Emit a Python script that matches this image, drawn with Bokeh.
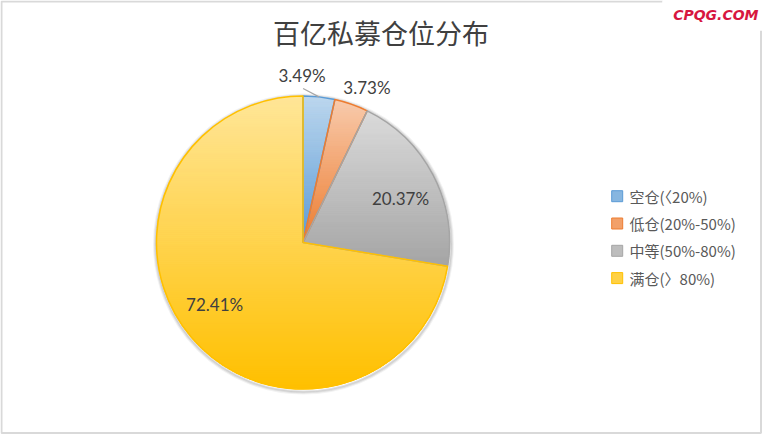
import numpy as np
from bokeh.plotting import figure
from bokeh.models import Range1d
from bokeh.core.properties import value
from bokeh.embed import file_html
from bokeh.resources import INLINE

# ---- data ----
title = "百亿私募仓位分布"
categories = ["空仓(〈20%)", "低仓(20%-50%)", "中等(50%-80%)", "满仓(〉80%)"]
shares = [3.49, 3.73, 20.37, 72.41]
watermark = "CPQG.COM"

# ---- style / layout ----
base_colors = ["#5B9BD5", "#ED7D31", "#A5A5A5", "#FFC000"]
W, H = 762, 434
CX, CY, R = 302.5, 192.0, 146.5
label_rf = [1.14, 1.147, 0.73, 0.737]        # radial factor of label centres
label_shift = [-6.6, 3.1, 3.1, 5.3]           # degrees, clockwise
leader = [True, False, False, False]


def hex2rgb(h):
    h = h.lstrip("#")
    return np.array([int(h[i:i + 2], 16) for i in (0, 2, 4)], dtype=float)


def rgb2hex(c):
    c = np.clip(np.round(c), 0, 255).astype(int)
    return "#%02X%02X%02X" % tuple(c)


def mix(c1, c2, t):
    return rgb2hex(hex2rgb(c1) * (1 - t) + hex2rgb(c2) * t)


light_colors = [mix(c, "#FFFFFF", 0.6) for c in base_colors]


def theta(f):
    return np.pi / 2 - 2 * np.pi * f


def clip(poly, y0, keep_above):
    out = []
    n = len(poly)
    for i in range(n):
        cur, prev = poly[i], poly[i - 1]
        cin = cur[1] >= y0 if keep_above else cur[1] <= y0
        pin = prev[1] >= y0 if keep_above else prev[1] <= y0
        if cin:
            if not pin:
                t = (y0 - prev[1]) / (cur[1] - prev[1])
                out.append((prev[0] + t * (cur[0] - prev[0]), y0))
            out.append(cur)
        elif pin:
            t = (y0 - prev[1]) / (cur[1] - prev[1])
            out.append((prev[0] + t * (cur[0] - prev[0]), y0))
    return out


p = figure(width=W, height=H, x_range=Range1d(0, W), y_range=Range1d(0, H),
           x_axis_type=None, y_axis_type=None, toolbar_location=None,
           output_backend="svg", min_border=0)
p.outline_line_color = None
p.background_fill_color = "white"
p.border_fill_color = "white"
p.grid.grid_line_color = None

# chart border
p.multi_line(xs=[[662, 1, 1, 760.5, 760.5]], ys=[[433, 433, 1.5, 1.5, 404]],
             line_color="#D9D9D9", line_width=2)

# soft shadow
for k, a in [(3, 0.05), (2, 0.08), (1, 0.12)]:
    p.circle(x=[CX + 0.5], y=[CY - 1.5], radius=R + k, fill_color=None,
             line_color="#000000", line_alpha=a, line_width=2)

total = sum(shares)
fr = [s / total for s in shares]
cum = np.concatenate([[0], np.cumsum(fr)])

# gradient slices built from horizontal bands
bx, by, bc = [], [], []
for i in range(len(shares)):
    f0, f1 = cum[i], cum[i + 1]
    n = max(6, int((f1 - f0) * 720))
    fs = np.linspace(f0, f1, n)
    poly = [(CX, CY)] + [(CX + R * np.cos(theta(f)), CY + R * np.sin(theta(f))) for f in fs]
    ys_ = [q[1] for q in poly]
    ymin, ymax = min(ys_), max(ys_)
    nb = int((ymax - ymin) / 2) + 1
    h = (ymax - ymin) / nb
    for j in range(nb):
        y1 = ymax - j * h
        y0 = y1 - h
        part = clip(poly, y0 - 0.3, True)
        if len(part) < 3:
            continue
        part = clip(part, y1 + 0.3, False)
        if len(part) < 3:
            continue
        t = (j + 0.5) / nb
        col = mix(light_colors[i], base_colors[i], t)
        bx.append([q[0] for q in part])
        by.append([q[1] for q in part])
        bc.append(col)
p.patches(bx, by, fill_color=bc, line_color=bc, line_width=0.8)

# slice outlines
p.wedge(x=[CX] * len(shares), y=[CY] * len(shares), radius=R,
        start_angle=[theta(f) for f in cum[:-1]], end_angle=[theta(f) for f in cum[1:]],
        direction="clock", fill_color=None, line_color=base_colors, line_width=1.5)

# data labels
lx, ly, ltxt = [], [], []
for i, s in enumerate(shares):
    mid = (cum[i] + cum[i + 1]) / 2 + label_shift[i] / 360.0
    x = CX + R * label_rf[i] * np.cos(theta(mid))
    y = CY + R * label_rf[i] * np.sin(theta(mid))
    lx.append(x)
    ly.append(y)
    ltxt.append(f"{s:.2f}%")
    if leader[i]:
        m = (cum[i] + cum[i + 1]) / 2
        ax_, ay_ = CX + R * np.cos(theta(m)), CY + R * np.sin(theta(m))
        p.line([x + 1, ax_], [y - 13, ay_], line_color="#A6A6A6", line_width=1.2)
p.text(x=lx, y=ly, text=ltxt, text_font=value("Lato"), text_font_size="17px",
       text_color="#404040", text_align="center", text_baseline="middle")

# title
p.text(x=[380.5], y=[402], text=[title], text_font=value("Noto Sans CJK SC"),
       text_font_size="27px", text_color="#404040", text_align="center",
       text_baseline="middle")

# legend
gx = 616.7
gy = [238.3 - 27.3 * i for i in range(len(categories))]
p.scatter(x=[gx] * len(categories), y=gy, marker="square", size=11,
          fill_color=[mix(l, b, 0.55) for l, b in zip(light_colors, base_colors)],
          line_color=base_colors, line_width=1)
p.text(x=[gx + 12.3] * len(categories), y=gy, text=categories,
       text_font=value("Noto Sans CJK SC"), text_font_size="15px",
       text_color="#595959", text_baseline="middle")

# watermark
p.quad(left=[662], right=[W], bottom=[404], top=[H], fill_color="white", line_color=None)
p.text(x=[758], y=[420], text=[watermark], text_font=value("DejaVu Sans"),
       text_font_size="14px", text_font_style="bold italic", text_color="#D7173F",
       text_align="right", text_baseline="middle")

open("out.html", "w").write(file_html(p, INLINE))
